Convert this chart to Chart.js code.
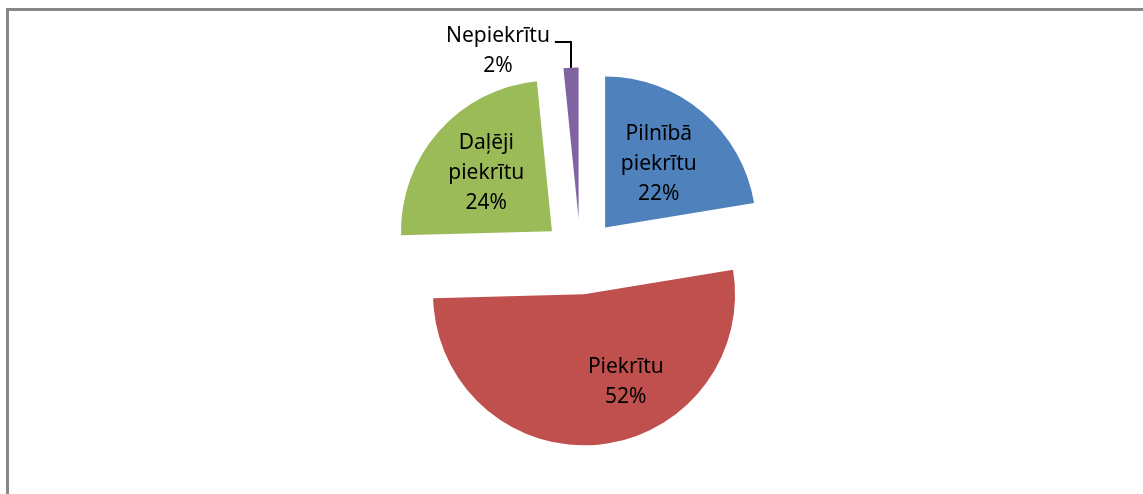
<!DOCTYPE html>
<html>
<head>
<meta charset="utf-8">
<script src="https://cdn.jsdelivr.net/npm/chart.js@4.4.1/dist/chart.umd.min.js"></script>
<style>
    html, body { margin: 0; padding: 0; background: #fff; }
    #wrap { position: relative; width: 1143px; height: 494px; overflow: hidden; }
    #frame { position: absolute; left: 6px; top: 8px; width: 1200px; height: 600px; border: 3px solid #878787; }
    canvas { position: absolute; left: 0; top: 0; }
</style>
</head>
<body>
<div id="wrap">
    <div id="frame"></div>
    <canvas id="pieChart" width="1143" height="494"></canvas>
</div>
<script>
// Answer categories, clockwise from 12 o'clock
const categories = ['Pilnībā piekrītu', 'Piekrītu', 'Daļēji piekrītu', 'Nepiekrītu'];
const labelLines = [['Pilnībā', 'piekrītu'], ['Piekrītu'], ['Daļēji', 'piekrītu'], ['Nepiekrītu']];
// Shares in percent (labels show rounded values)
const shares = [22.4, 52.2, 23.8, 1.6];
const sliceColors = ['#4F81BD', '#C0504D', '#9BBB59', '#8064A2'];

// Pull every slice out from the centre along its mid angle
const explodePlugin = {
    id: 'explode',
    beforeDatasetDraw(chart, args, opts) {
        const ctx = chart.ctx;
        args.meta.data.forEach(arc => {
            const mid = (arc.startAngle + arc.endAngle) / 2;
            ctx.save();
            ctx.translate(Math.cos(mid) * opts.distance, Math.sin(mid) * opts.distance);
            arc.draw(ctx);
            ctx.restore();
        });
        return false;
    }
};

// Data labels (inside slices, one outside with a leader line)
const sliceLabels = {
    id: 'sliceLabels',
    afterDatasetsDraw(chart, args, opts) {
        const ctx = chart.ctx;
        const meta = chart.getDatasetMeta(0);
        const values = chart.data.datasets[0].data;
        const total = values.reduce((a, b) => a + b, 0);
        const explode = chart.options.plugins.explode.distance;

        ctx.save();
        ctx.font = opts.font;
        ctx.fillStyle = '#000';
        ctx.textAlign = 'center';
        ctx.textBaseline = 'middle';

        meta.data.forEach((arc, i) => {
            const p = opts.place[i];
            const mid = (arc.startAngle + arc.endAngle) / 2;
            const ang = mid + p.turn * Math.PI / 180;
            const dist = explode + p.r * arc.outerRadius;
            const lx = arc.x + Math.cos(ang) * dist;
            const ly = arc.y + Math.sin(ang) * dist;
            const lines = labelLines[i].concat(Math.round(values[i] / total * 100) + '%');
            const top = ly - (lines.length - 1) / 2 * opts.lineHeight;
            lines.forEach((t, k) => ctx.fillText(t, lx, top + k * opts.lineHeight));

            if (p.leader) {
                const ox = arc.x + Math.cos(mid) * (explode + arc.outerRadius);
                const oy = arc.y + Math.sin(mid) * (explode + arc.outerRadius);
                const hy = top + 6;
                const tx = lx + ctx.measureText(lines[0]).width / 2 + 5;
                ctx.beginPath();
                ctx.lineWidth = 2;
                ctx.strokeStyle = '#000';
                ctx.moveTo(ox, oy);
                ctx.lineTo(ox, hy);
                ctx.lineTo(tx, hy);
                ctx.stroke();
            }
        });
        ctx.restore();
    }
};

const ctx = document.getElementById('pieChart').getContext('2d');
new Chart(ctx, {
    type: 'pie',
    data: {
        labels: categories,
        datasets: [{
            data: shares,
            backgroundColor: sliceColors,
            borderWidth: 0,
            hoverOffset: 0,
            radius: 151
        }]
    },
    options: {
        responsive: false,
        animation: false,
        layout: {
            padding: { left: 18, right: 0, top: 19, bottom: 0 }
        },
        plugins: {
            legend: { display: false },
            tooltip: { enabled: false },
            explode: { distance: 38 },
            sliceLabels: {
                font: '21px "Noto Sans"',
                lineHeight: 30,
                place: [
                    { r: 0.55, turn: 0 },
                    { r: 0.63, turn: -14.5 },
                    { r: 0.58, turn: 0 },
                    { r: 1.215, turn: -19, leader: true }
                ]
            }
        }
    },
    plugins: [explodePlugin, sliceLabels]
});
</script>
</body>
</html>
